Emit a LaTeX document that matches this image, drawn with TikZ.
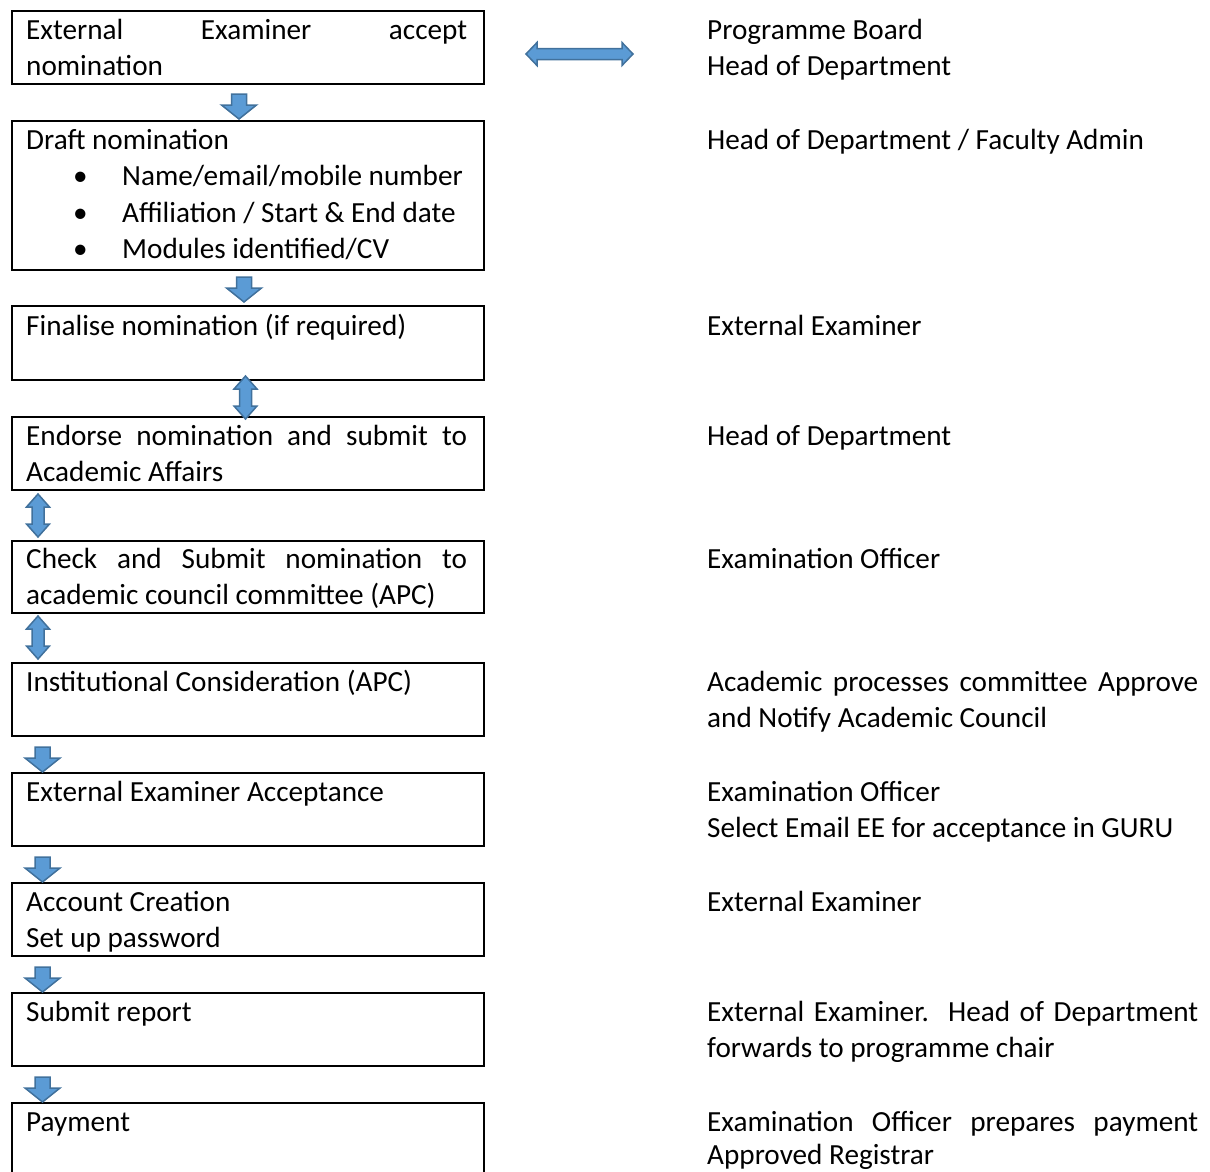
\documentclass[tikz,border=0pt]{standalone}
\usepackage{fontspec}
\setmainfont{Carlito}
\usetikzlibrary{calc}
\definecolor{blkfill}{HTML}{5B9BD5}
\definecolor{blkline}{HTML}{41719C}
\begin{document}
\begin{tikzpicture}[x=1pt,y=1pt,
  box/.style={draw=black,line width=2pt,rectangle,minimum width=472pt,anchor=north west,inner sep=0pt},
  txt/.style={anchor=base west,inner sep=0pt,font=\fontsize{29.2}{36}\selectfont},
  bul/.style={anchor=base,inner sep=0pt,font=\fontsize{29.2}{36}\selectfont},
  blk/.style={fill=blkfill,draw=blkline,line width=1.5pt,line join=miter},
  pics/downblk/.style={code={\path[blk] (-7.5,0) -- (7.5,0) -- (7.5,-11) -- (17.5,-11) -- (0,-25) -- (-17.5,-11) -- (-7.5,-11) -- cycle;}},
  pics/vdbl/.style={code={\path[blk] (0,0) -- (11.5,-13) -- (6,-13) -- (6,-30) -- (11.5,-30) -- (0,-43) -- (-11.5,-30) -- (-6,-30) -- (-6,-13) -- (-11.5,-13) -- cycle;}},
  pics/hdbl/.style={code={\path[blk] (0,0) -- (11,11.5) -- (11,5.5) -- (96,5.5) -- (96,11.5) -- (107,0) -- (96,-11.5) -- (96,-5.5) -- (11,-5.5) -- (11,-11.5) -- cycle;}},
]
\useasboundingbox (0,0) rectangle (1210,-1171);
\clip (0,0) rectangle (1210,-1171);

% boxes
\node[box,minimum height=73pt]  (b1)  at (11,-10)   {};
\node[box,minimum height=149pt] (b2)  at (11,-120)  {};
\node[box,minimum height=74pt]  (b3)  at (11,-305)  {};
\node[box,minimum height=73pt]  (b4)  at (11,-416)  {};
\node[box,minimum height=72pt]  (b5)  at (11,-540)  {};
\node[box,minimum height=73pt]  (b6)  at (11,-662)  {};
\node[box,minimum height=73pt]  (b7)  at (11,-772)  {};
\node[box,minimum height=73pt]  (b8)  at (11,-882)  {};
\node[box,minimum height=73pt]  (b9)  at (11,-992)  {};
\node[box,minimum height=90pt]  (b10) at (11,-1102) {};

% box texts
\node[txt] (t1a) at (26,-39) {\makebox[441pt][s]{External Examiner accept}};
\node[txt] (t1b) at (26,-75) {nomination};
\node[txt] (t2a) at (26,-149) {Draft nomination};
\node[bul] (t2b) at (80.5,-185) {•};
\node[txt] (t2c) at (122,-185) {Name/email/mobile number};
\node[bul] (t2d) at (80.5,-222) {•};
\node[txt] (t2e) at (122,-222) {Affiliation / Start \& End date};
\node[bul] (t2f) at (80.5,-258) {•};
\node[txt] (t2g) at (122,-258) {Modules identified/CV};
\node[txt] (t3a) at (26,-335) {Finalise nomination (if required)};
\node[txt] (t4a) at (26,-445) {\makebox[441pt][s]{Endorse nomination and submit to}};
\node[txt] (t4b) at (26,-481) {Academic Affairs};
\node[txt] (t5a) at (26,-568) {\makebox[441pt][s]{Check and Submit nomination to}};
\node[txt] (t5b) at (26,-604) {academic council committee (APC)};
\node[txt] (t6a) at (26,-691) {Institutional Consideration (APC)};
\node[txt] (t7a) at (26,-801) {External Examiner Acceptance};
\node[txt] (t8a) at (26,-911) {Account Creation};
\node[txt] (t8b) at (26,-947) {Set up password};
\node[txt] (t9a) at (26,-1021) {Submit report};
\node[txt] (t10a) at (26,-1131) {Payment};

% right column
\node[txt] (r1a) at (707,-39) {Programme Board};
\node[txt] (r1b) at (707,-75) {Head of Department};
\node[txt] (r2a) at (707,-149) {Head of Department / Faculty Admin};
\node[txt] (r3a) at (707,-335) {External Examiner};
\node[txt] (r4a) at (707,-445) {Head of Department};
\node[txt] (r5a) at (707,-568) {Examination Officer};
\node[txt] (r6a) at (707,-691) {\makebox[491pt][s]{Academic processes committee Approve}};
\node[txt] (r6b) at (707,-727) {and Notify Academic Council};
\node[txt] (r7a) at (707,-801) {Examination Officer};
\node[txt] (r7b) at (707,-837) {Select Email EE for acceptance in GURU};
\node[txt] (r8a) at (707,-911) {External Examiner};
\node[txt] (r9a) at (707,-1021) {\makebox[491pt][s]{External Examiner.\ \ Head of Department}};
\node[txt] (r9b) at (707,-1057) {forwards to programme chair};
\node[txt] (r10a) at (707,-1131) {\makebox[491pt][s]{Examination Officer prepares payment}};
\node[txt] (r10b) at (707,-1164) {Approved Registrar};

% block arrows, placed relative to the boxes
\coordinate (c12)  at ($(b1.south west)+(228,-9)$);
\coordinate (c23)  at ($(b2.south west)+(233,-6)$);
\coordinate (c34)  at ($(b3.south west)+(234.5,5)$);
\coordinate (c45)  at ($(b4.south west)+(27,-3)$);
\coordinate (c56)  at ($(b5.south west)+(27,-2)$);
\coordinate (c67)  at ($(b6.south west)+(31.5,-10)$);
\coordinate (c78)  at ($(b7.south west)+(31.5,-10)$);
\coordinate (c89)  at ($(b8.south west)+(31.5,-10)$);
\coordinate (c910) at ($(b9.south west)+(31.5,-10)$);
\coordinate (ch)   at ($(b1.east)+(41,-6.5)$);

\pic at (c12)  {downblk};
\pic at (c23)  {downblk};
\pic at (c34)  {vdbl};
\pic at (c45)  {vdbl};
\pic at (c56)  {vdbl};
\pic at (c67)  {downblk};
\pic at (c78)  {downblk};
\pic at (c89)  {downblk};
\pic at (c910) {downblk};
\pic at (ch)   {hdbl};
\end{tikzpicture}
\end{document}
